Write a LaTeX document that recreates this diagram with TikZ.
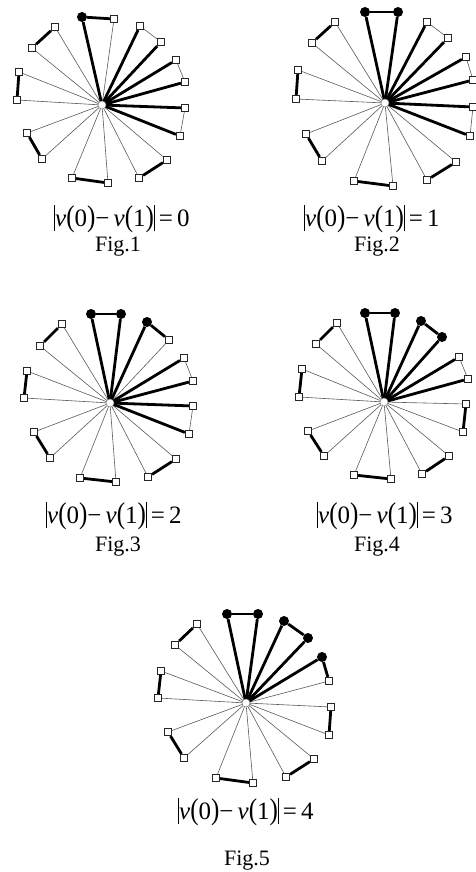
\documentclass[tikz,border=0pt]{standalone}
\usepackage{fontspec}
\setmainfont{Liberation Serif}
\usepackage{graphicx}
\usetikzlibrary{backgrounds}
\tikzset{
  sq/.style={draw=black!85, fill=white, minimum size=7.5pt, inner sep=0pt, line width=0.7pt},
  blackdot/.style={circle, fill=black, minimum size=10pt, inner sep=0pt},
  hub/.style={circle, draw=black!50, fill=white, minimum size=8pt, inner sep=0pt, line width=0.5pt},
  lightedge/.style={draw=black!65, line width=0.6pt},
  heavyedge/.style={draw=black, line width=2.8pt},
  formula/.style={anchor=base, font=\fontsize{25}{29}\selectfont, inner sep=0pt},
  figlabel/.style={anchor=base, font=\fontsize{22}{26}\selectfont, inner sep=0pt},
}
\newcommand\tallp[1]{\scalebox{1}[1.2]{#1}}
\newcommand\absbar{\rule[-5pt]{0.7pt}{26pt}}
\newcommand\absform[1]{\absbar\textit{v}\tallp{(}0\tallp{)}−\,\textit{v}\tallp{(}1\tallp{)}\absbar\,=\,#1}
\newcommand\wheelfig[7]{%
  \node[hub] (#1c) at (#2) {};
  \foreach \i/\x/\y in {#3} {%
    \ifnum\i>#4\relax
      \node[sq] (#1v\i) at (\x,\y) {};
    \else
      \node[blackdot] (#1v\i) at (\x,\y) {};
    \fi
  }
  \begin{pgfonlayer}{background}
    \foreach \i in {1,...,18} {\draw[lightedge] (#1c.center) -- (#1v\i);}
    \foreach \i in {#5} {\draw[heavyedge] (#1c.center) -- (#1v\i);}
    \foreach \a/\b in {#6} {\draw[heavyedge] (#1v\a) -- (#1v\b);}
    \foreach \a/\b in {#7} {\draw[lightedge] (#1v\a) -- (#1v\b);}
  \end{pgfonlayer}
}
\begin{document}
\begin{tikzpicture}[x=1pt,y=-1pt]
\useasboundingbox (0,0) rectangle (476,872);
% Fig.1
\wheelfig{a}{102,105}{1/82/17,2/114/19,3/140/26,4/161/42,5/176/60,6/185/82,7/185/108,8/180/136,9/167/160,10/139/178,11/108/183,12/72/178,13/42/159,14/27/133,15/17/100,16/19/72,17/32/48,18/55/27}{1}{1,3,4,5,6,7,8}{1/2,9/10,11/12,13/14,15/16,17/18}{3/4,5/6,7/8}
% Fig.2
\wheelfig{b}{385,103}{1/365/12,2/398/12,3/427/22,4/448/38,5/466/57,6/473/80,7/473/107,8/470/136,9/456/162,10/427/180,11/393/186,12/354/181,13/322/161,14/306/134,15/296/99,16/298/70,17/312/43,18/335/22}{2}{1,2,3,4,5,6,7,8}{1/2,9/10,11/12,13/14,15/16,17/18}{3/4,5/6,7/8}
% Fig.3
\wheelfig{c}{110,403}{1/91/314,2/121/314,3/147/322,4/169/340,5/184/358,6/193/381,7/193/406,8/189/434,9/176/459,10/148/477,11/116/482,12/80/478,13/50/458,14/34/432,15/24/398,16/27/371,17/40/346,18/62/324}{3}{1,2,3,5,6,7,8}{1/2,3/4,9/10,11/12,13/14,15/16,17/18}{5/6,7/8}
% Fig.4
\wheelfig{d}{384,402}{1/365/313,2/395/313,3/421/321,4/442/337,5/459/357,6/468/379,7/466/404,8/463/432,9/449/456,10/422/474,11/391/479,12/354/475,13/324/456,14/308/431,15/299/397,16/302/369,17/316/344,18/337/323}{4}{1,2,3,4,5,6}{1/2,3/4,7/8,9/10,11/12,13/14,15/16,17/18}{5/6}
% Fig.5
\wheelfig{e}{246,703}{1/227/614,2/258/614,3/284/621,4/308/638,5/322/657,6/329/681,7/331/707,8/329/735,9/314/759,10/286/777,11/253/783,12/216/778,13/184/758,14/168/732,15/158/698,16/161/671,17/175/645,18/197/624}{5}{1,2,3,4,5}{1/2,3/4,5/6,7/8,9/10,11/12,13/14,15/16,17/18}{}
% captions
\node[formula] (fa) at (122,226) {\absform{0}};
\node[figlabel] (la) at (118,251) {Fig.1};
\node[formula] (fb) at (372,226) {\absform{1}};
\node[figlabel] (lb) at (377,251) {Fig.2};
\node[formula] (fc) at (114,523) {\absform{2}};
\node[figlabel] (lc) at (118,551) {Fig.3};
\node[formula] (fd) at (385,523) {\absform{3}};
\node[figlabel] (ld) at (377,551) {Fig.4};
\node[formula] (fe) at (246,819) {\absform{4}};
\node[figlabel] (le) at (247,865) {Fig.5};
\end{tikzpicture}
\end{document}
